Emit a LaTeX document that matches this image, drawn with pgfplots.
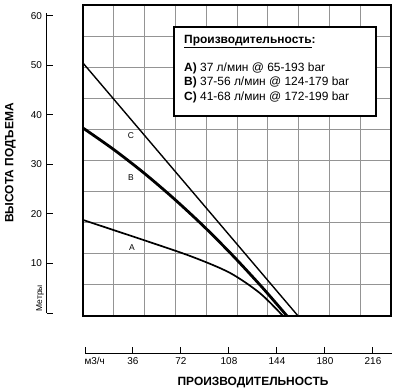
\documentclass[border=0pt]{standalone}
\usepackage{pgfplots}
\pgfplotsset{compat=1.18}
\usepackage{fontspec}
\setmainfont{Liberation Sans}
\begin{document}
\begin{tikzpicture}
\useasboundingbox (-85bp,-77bp) rectangle (311bp,313bp);
% main plot box with grid
\begin{axis}[
  anchor=origin, at={(0,0)}, x=1.3333bp, y=4.95bp,
  xmin=-1.5, xmax=229.5, ymin=-0.6, ymax=62.2,
  xtick={21.6,44.7,67.8,90.9,114,137.1,160.2,183.3,206.4},
  ytick={5.68,11.96,18.24,24.52,30.8,37.08,43.36,49.64,55.92},
  xticklabels={}, yticklabels={},
  major tick style={draw=none},
  grid=major,
  major grid style={draw=black!42, line width=0.9bp},
  axis line style={line width=2.5bp, black},
  clip=false,
]
\addplot[black, line width=1.4bp] coordinates {(-1.5,50.5) (159.8,-0.6)};
\addplot[black, line width=2.8bp, smooth, tension=0.5] coordinates {(-1.5,37.37) (21,33.13) (43.5,28.44) (66,23.27) (88.5,17.66) (111,11.56) (133.5,5.0) (151.5,-0.6)};
\addplot[black, line width=1.7bp, smooth, tension=0.5] coordinates {(-1.5,18.8) (48.8,14.3) (81,11.3) (108.75,8.1) (131.25,4.0) (148.5,-0.6)};
\node[font=\fontsize{8.5}{10}\selectfont] at (axis cs:34.5,35.8) {C};
\node[font=\fontsize{8.5}{10}\selectfont] at (axis cs:34.5,27.3) {B};
\node[font=\fontsize{8.5}{10}\selectfont] at (axis cs:35.25,13.3) {A};
\draw[line width=2bp, fill=white] (axis cs:66.75,57.8) rectangle (axis cs:218.25,39.8);
\node[anchor=west, inner sep=0pt, font=\fontsize{12}{14}\selectfont] at (axis cs:74.25,54.9) {\textbf{\underline{Производительность}:}};
\node[anchor=west, inner sep=0pt, font=\fontsize{12}{14}\selectfont] at (axis cs:74.25,49.5) {\textbf{A)} 37 л/мин @ 65-193 bar};
\node[anchor=west, inner sep=0pt, font=\fontsize{12}{14}\selectfont] at (axis cs:74.25,46.6) {\textbf{B)} 37-56 л/мин @ 124-179 bar};
\node[anchor=west, inner sep=0pt, font=\fontsize{12}{14}\selectfont] at (axis cs:74.25,43.6) {\textbf{C)} 41-68 л/мин @ 172-199 bar};
\node[font=\bfseries\fontsize{12}{14}\selectfont] at (axis cs:126,-14.1) {ПРОИЗВОДИТЕЛЬНОСТЬ};
\node[rotate=90, font=\bfseries\fontsize{12}{14}\selectfont] at (axis cs:-55.9,30.3) {ВЫСОТА ПОДЪЕМА};
\node[rotate=90, font=\fontsize{8.5}{10}\selectfont] at (axis cs:-33.75,3.0) {Метры};
\node[anchor=north west, inner sep=0pt, font=\fontsize{10}{12}\selectfont] at (axis cs:-0.5,-8.95) {м3/ч};
\end{axis}
% detached y axis
\begin{axis}[
  anchor=origin, at={(0,0)}, x=1.3333bp, y=4.95bp,
  xmin=-28.5, xmax=0, ymin=0, ymax=60.6,
  axis x line=none, axis y line*=left,
  ytick={0,10,20,30,40,50,60}, yticklabels={,10,20,30,40,50,60},
  ytick align=inside, major tick length=6bp,
  axis line style={-, line width=1bp, black},
  tick style={line width=1bp, black},
  yticklabel style={font=\fontsize{10}{12}\selectfont, xshift=-1.5bp},
  /pgf/number format/assume math mode=true,
]
\end{axis}
% detached x axis
\begin{axis}[
  anchor=origin, at={(0,0)}, x=1.3333bp, y=4.95bp,
  xmin=0, xmax=230, ymin=-8.28, ymax=0,
  axis y line=none, axis x line*=bottom,
  xtick={0,36,72,108,144,180,216}, xticklabels={,36,72,108,144,180,216},
  xtick align=inside, major tick length=7bp,
  axis line style={-, line width=1bp, black},
  tick style={line width=1bp, black},
  xticklabel style={font=\fontsize{10}{12}\selectfont},
  /pgf/number format/assume math mode=true,
]
\end{axis}
\end{tikzpicture}
\end{document}
